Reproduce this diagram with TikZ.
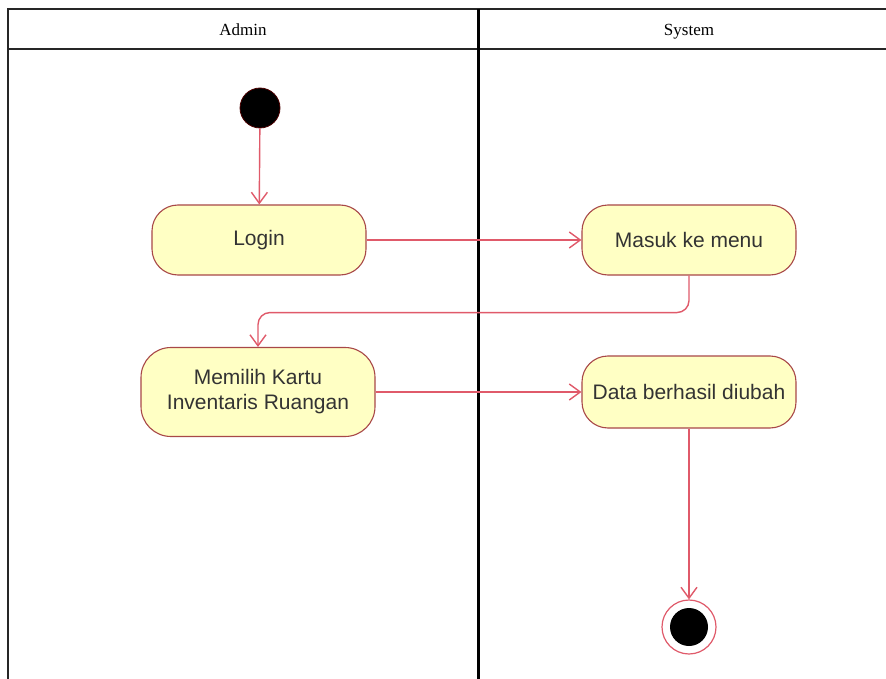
\documentclass[tikz,border=0pt]{standalone}
\usepackage{fontspec}
\setmainfont{Liberation Serif}
\newfontfamily\boxfont{Liberation Sans}
\usetikzlibrary{arrows.meta}
\definecolor{actfill}{HTML}{FFFFC4}
\definecolor{actline}{HTML}{A84848}
\definecolor{flowline}{HTML}{E05A6A}
\definecolor{textdark}{HTML}{333333}
\tikzset{
  lane/.style={draw=black!85, line width=1.6pt},
  activity/.style={draw=actline, fill=actfill, line width=1.1pt, rounded corners=26pt,
    font=\boxfont\fontsize{21}{25}\selectfont, text=textdark, align=center, inner sep=0pt},
  flow/.style={draw=flowline, line width=1.4pt, -{Straight Barb[length=11pt,width=16pt,line width=1.4pt]}},
  lanehead/.style={font=\fontsize{17}{20}\selectfont, text=black, anchor=base, inner sep=0pt}
}
\begin{document}
\begin{tikzpicture}[x=1pt,y=-1pt]
\useasboundingbox (0,0) rectangle (886,679);
\fill[white] (0,0) rectangle (886,679);

% swimlane frame
\draw[lane] (886,9) -- (8,9) -- (8,679);
\draw[lane] (8,49) -- (886,49);
\draw[black, line width=3pt] (478,9) -- (478,679);
\node[lanehead] (hadmin) at (243,36) {Admin};
\node[lanehead] (hsystem) at (689,36) {System};

% start node
\node[circle, fill=black, draw=black!70!red, line width=0.8pt, minimum size=40pt, inner sep=0pt] (start) at (260,108) {};

% activities
\node[activity, minimum width=214pt, minimum height=70pt] (login) at (259,240) {Login};
\node[activity, minimum width=214pt, minimum height=70pt] (menu) at (689,240) {Masuk ke menu};
\node[activity, minimum width=234pt, minimum height=89pt, rounded corners=30pt] (pilih) at (258,392) {Memilih Kartu\\Inventaris Ruangan};
\node[activity, minimum width=214pt, minimum height=72pt] (ubah) at (689,392) {Data berhasil diubah};

% end node
\node[circle, draw=flowline, line width=1.2pt, fill=white, minimum size=54pt, inner sep=0pt] (stop) at (689,627) {};
\node[circle, fill=black, minimum size=38pt, inner sep=0pt] (stopdot) at (stop.center) {};

% transitions
\draw[flow] (start) -- (login);
\draw[flow] (login) -- (menu);
\draw[flow, rounded corners=12pt] (menu.south) -- ++(0,37) -| (pilih.north);
\draw[flow] (pilih) -- (ubah);
\draw[flow] (ubah) -- (stop);
\end{tikzpicture}
\end{document}
